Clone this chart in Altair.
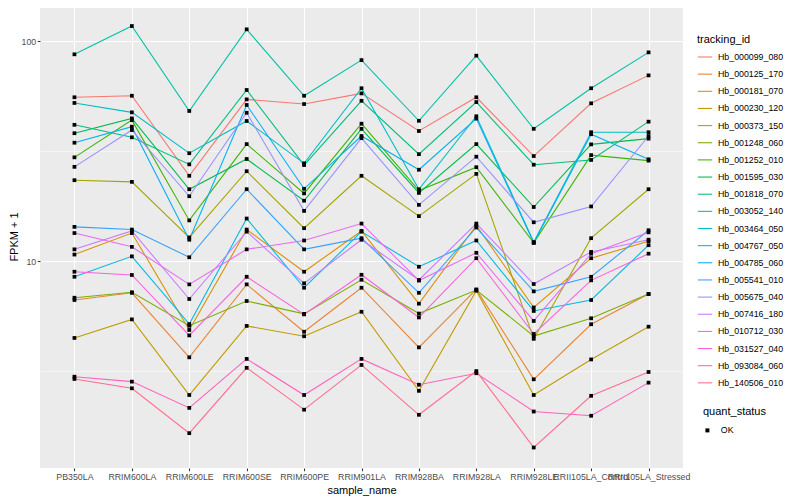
import altair as alt
import pandas as pd

F = "Liberation Sans"

samples = ["PB350LA", "RRIM600LA", "RRIM600LE", "RRIM600SE", "RRIM600PE", "RRIM901LA",
           "RRIM928BA", "RRIM928LA", "RRIM928LE", "RRII105LA_Control", "RRII105LA_Stressed"]

tracking_ids = ["Hb_000099_080", "Hb_000125_170", "Hb_000181_070", "Hb_000230_120", "Hb_000373_150",
                "Hb_001248_060", "Hb_001252_010", "Hb_001595_030", "Hb_001818_070", "Hb_003052_140",
                "Hb_003464_050", "Hb_004767_050", "Hb_004785_060", "Hb_005541_010", "Hb_005675_040",
                "Hb_007416_180", "Hb_010712_030", "Hb_031527_040", "Hb_093084_060", "Hb_140506_010"]

palette = ["#F8766D", "#EA8331", "#D89000", "#C09B00", "#A3A500", "#7CAE00", "#39B600", "#00BB4E",
           "#00BF7D", "#00C1A3", "#00BFC4", "#00BAE0", "#00B0F6", "#35A2FF", "#9590FF", "#C77CFF",
           "#E76BF3", "#FA62DB", "#FF62BC", "#FF6C91"]

# FPKM + 1 per sample (order of `samples`)
hb_000099_080 = [55.5, 56.4, 24.4, 54.3, 51.7, 57.8, 39.0, 55.5, 30.0, 52.1, 69.8]
hb_000125_170 = [6.65, 7.17, 3.65, 7.83, 4.77, 7.56, 4.05, 7.43, 2.90, 5.16, 7.08]
hb_000181_070 = [10.7, 13.4, 4.86, 13.9, 8.94, 13.7, 6.40, 14.5, 6.15, 10.3, 12.3]
hb_000230_120 = [4.47, 5.43, 2.46, 5.07, 4.55, 5.88, 2.57, 7.33, 2.46, 3.57, 5.03]
hb_000373_150 = [23.3, 22.9, 12.8, 25.6, 14.1, 24.4, 16.0, 24.9, 4.43, 12.7, 21.2]
hb_001248_060 = [6.81, 7.21, 5.08, 6.58, 5.75, 8.22, 5.77, 7.38, 4.56, 5.49, 7.08]
hb_001252_010 = [29.6, 43.7, 15.3, 34.0, 20.3, 42.1, 20.9, 26.7, 12.1, 30.3, 28.6]
hb_001595_030 = [38.1, 44.5, 21.2, 29.1, 18.8, 39.9, 20.4, 34.0, 17.6, 33.9, 36.0]
hb_001818_070 = [41.6, 36.5, 27.5, 59.9, 27.3, 53.5, 30.6, 52.8, 27.4, 28.8, 43.0]
hb_003052_140 = [87.0, 117.0, 48.1, 113.0, 56.4, 81.9, 43.4, 85.8, 39.9, 61.0, 88.8]
hb_003464_050 = [52.3, 47.4, 30.9, 43.3, 27.8, 61.0, 21.2, 45.5, 12.2, 38.5, 38.5]
hb_004767_050 = [8.48, 10.5, 5.17, 15.6, 7.56, 13.6, 9.42, 12.4, 5.93, 6.65, 11.8]
hb_004785_060 = [34.5, 40.8, 12.5, 51.2, 21.3, 37.0, 26.0, 44.4, 12.1, 37.7, 29.0]
hb_005541_010 = [14.3, 13.9, 10.4, 21.2, 11.3, 12.7, 7.17, 14.2, 7.28, 8.48, 13.8]
hb_005675_040 = [26.8, 39.4, 19.7, 47.2, 16.9, 36.2, 18.0, 29.8, 15.0, 17.7, 37.0]
hb_007416_180 = [11.3, 13.7, 6.72, 13.6, 7.92, 12.5, 8.20, 14.8, 7.86, 11.0, 12.5]
hb_010712_030 = [13.4, 11.6, 7.83, 11.3, 12.4, 14.8, 8.15, 10.9, 5.34, 10.8, 13.5]
hb_031527_040 = [8.94, 8.64, 4.59, 8.48, 5.72, 8.66, 5.54, 10.3, 4.66, 8.17, 10.8]
hb_093084_060 = [2.98, 2.83, 2.15, 3.59, 2.46, 3.59, 2.74, 3.09, 2.07, 1.98, 2.80]
hb_140506_010 = [2.91, 2.64, 1.65, 3.27, 2.11, 3.37, 2.00, 3.16, 1.42, 2.44, 3.13]

series = [hb_000099_080, hb_000125_170, hb_000181_070, hb_000230_120, hb_000373_150,
          hb_001248_060, hb_001252_010, hb_001595_030, hb_001818_070, hb_003052_140,
          hb_003464_050, hb_004767_050, hb_004785_060, hb_005541_010, hb_005675_040,
          hb_007416_180, hb_010712_030, hb_031527_040, hb_093084_060, hb_140506_010]

y_ticks = [3.1623, 10, 31.623, 100]

rows = []
for tid, vals in zip(tracking_ids, series):
    for i, (s, v) in enumerate(zip(samples, vals)):
        rows.append({"sample_name": s, "tracking_id": tid, "fpkm": v, "idx": i, "quant_status": "OK"})
df = pd.DataFrame(rows)

major = "datum.value == 10 || datum.value == 100"

x_enc = alt.X("sample_name:N", sort=samples,
              scale=alt.Scale(type="point", padding=0.6),
              axis=alt.Axis(title="sample_name", labelAngle=0, labelOverlap=False,
                            labelFontSize=8.8, labelFont=F, labelColor="#4D4D4D",
                            labelPadding=1.5, tickColor="#333333", tickSize=2.75, tickWidth=1.07,
                            domain=False, grid=True, gridColor="white", gridWidth=1.07,
                            titleFontSize=11, titleFont=F, titleColor="black",
                            titleFontWeight="normal", titlePadding=3))

y_enc = alt.Y("fpkm:Q",
              scale=alt.Scale(type="log", domain=[1.146, 145.8], nice=False),
              axis=alt.Axis(title="FPKM + 1", values=y_ticks,
                            labelExpr="(" + major + ") ? datum.value : ''",
                            labelFontSize=8.8, labelFont=F, labelColor="#4D4D4D",
                            labelPadding=1.5, tickColor="#333333", tickSize=2.75, tickWidth=1.07,
                            tickOpacity={"condition": {"test": major, "value": 1}, "value": 0},
                            domain=False, grid=True, gridColor="white",
                            gridWidth={"condition": {"test": major, "value": 1.07}, "value": 0.53},
                            titleFontSize=11, titleFont=F, titleColor="black",
                            titleFontWeight="normal", titlePadding=2))

base = alt.Chart(df).encode(x=x_enc, y=y_enc)

lines = base.mark_line(strokeWidth=1.07).encode(
    color=alt.Color("tracking_id:N",
                    scale=alt.Scale(domain=tracking_ids, range=palette),
                    legend=alt.Legend(title="tracking_id", orient="none", legendX=657, legendY=29,
                                      symbolType="stroke", symbolSize=207, symbolStrokeWidth=1.07,
                                      labelFontSize=8.8, labelFont=F, labelColor="black",
                                      labelOffset=5, rowPadding=4.15, padding=0,
                                      titleFontSize=11, titleFont=F, titleColor="black",
                                      titleFontWeight="normal", titlePadding=4)),
    order=alt.Order("idx:Q"),
)

points = base.mark_point(filled=True, size=14, opacity=1, color="black").encode(
    shape=alt.Shape("quant_status:N",
                    scale=alt.Scale(domain=["OK"], range=["square"]),
                    legend=alt.Legend(title="quant_status", orient="none", legendX=663, legendY=401,
                                      symbolSize=16, symbolFillColor="black", symbolStrokeColor="black",
                                      labelFontSize=8.8, labelFont=F, labelColor="black",
                                      labelOffset=9, padding=0,
                                      titleFontSize=11, titleFont=F, titleColor="black",
                                      titleFontWeight="normal", titlePadding=9)),
)

chart = alt.layer(lines, points).properties(
    width=643, height=463,
    padding={"left": 32, "top": -3, "right": 109, "bottom": 32},
    autosize=alt.AutoSizeParams(type="none"),
    background="white",
).configure_view(fill="#EBEBEB", strokeWidth=0)

chart.save("out.html", embed_options={"renderer": "svg", "actions": False})
